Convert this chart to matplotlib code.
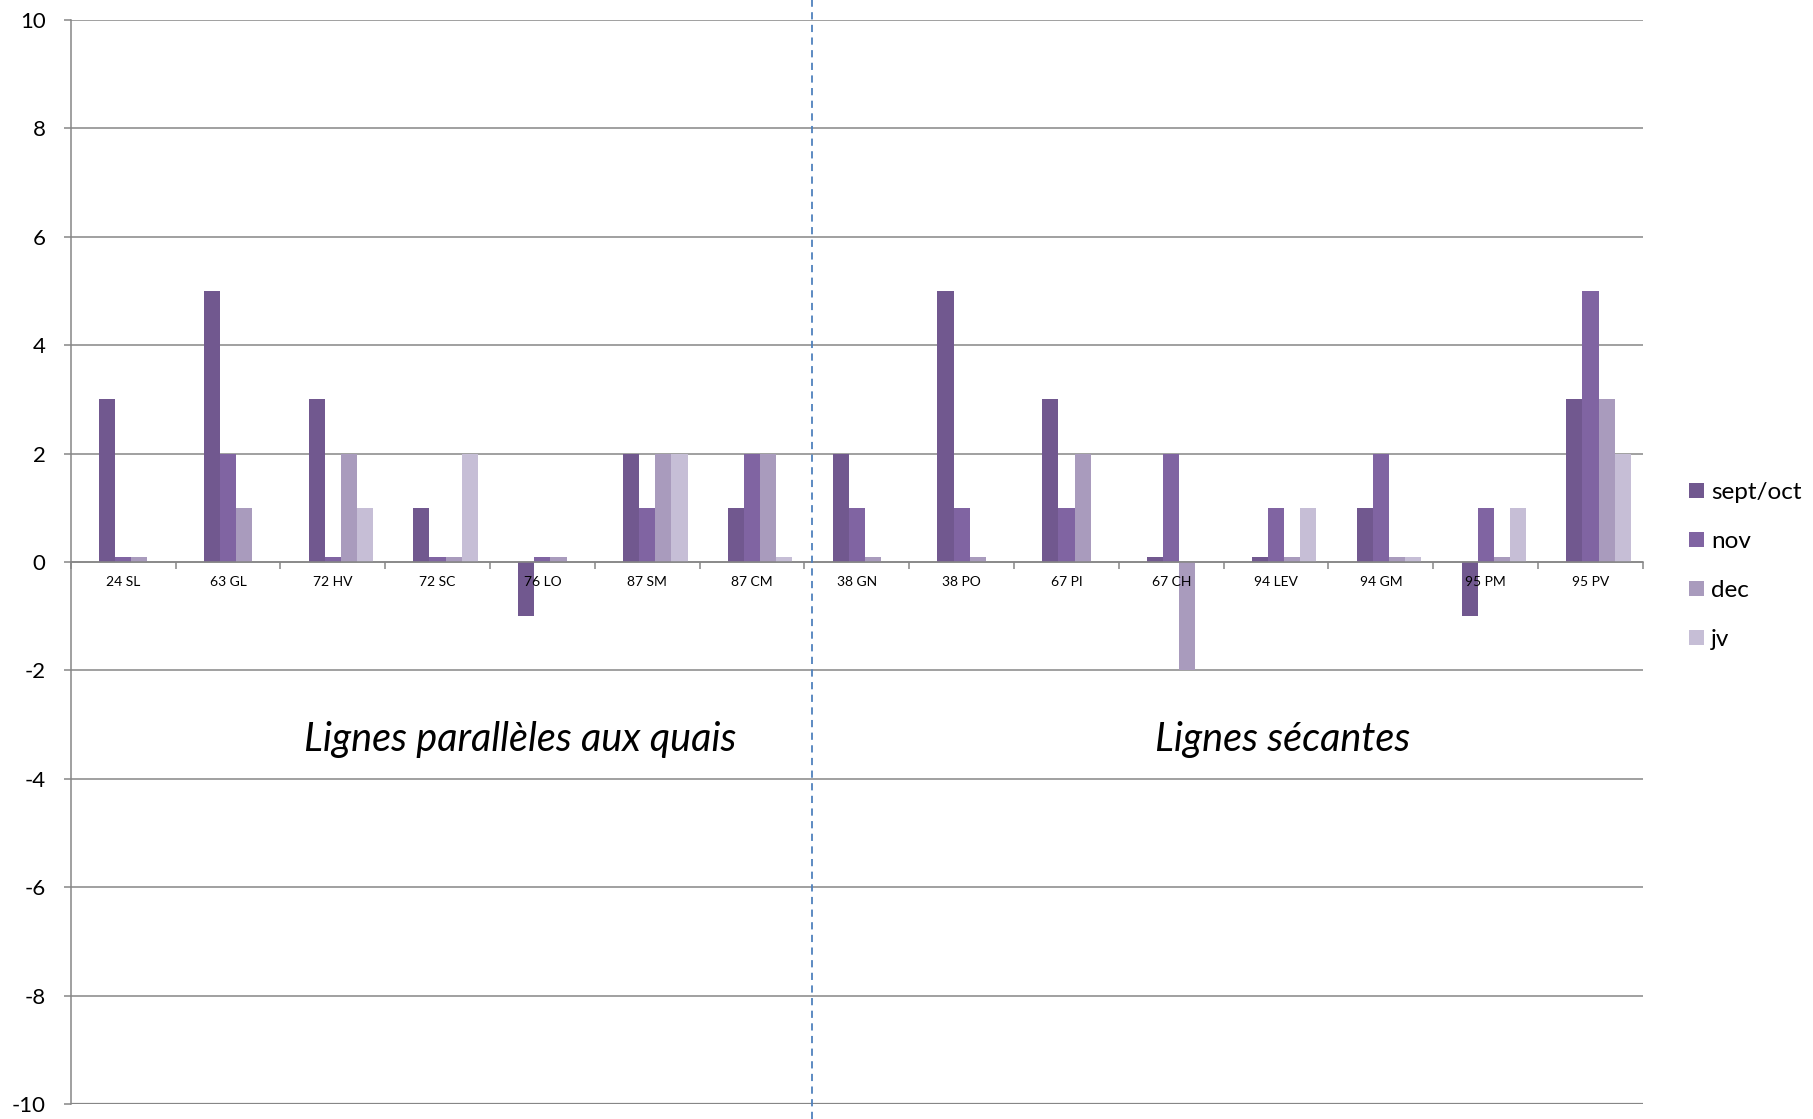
import matplotlib
matplotlib.use("Agg")
import matplotlib.pyplot as plt
import matplotlib.transforms as mtransforms
import numpy as np

plt.rcParams["font.family"] = ["Lato", "DejaVu Sans"]

# small 0.1 values are the thin "zero" stubs drawn in the chart
sites = ["24 SL", "63 GL", "72 HV", "72 SC", "76 LO", "87 SM", "87 CM",
         "38 GN", "38 PO", "67 PI", "67 CH", "94 LEV", "94 GM", "95 PM", "95 PV"]
sept_oct = [3, 5, 3, 1, -1, 2, 1, 2, 5, 3, 0.1, 0.1, 1, -1, 3]
nov = [0.1, 2, 0.1, 0.1, 0.1, 1, 2, 1, 1, 1, 2, 1, 2, 1, 5]
dec = [0.1, 1, 2, 0.1, 0.1, 2, 2, 0.1, 0.1, 2, -2, 0.1, 0.1, 0.1, 3]
jv = [0, 0, 1, 2, 0, 2, 0.1, 0, 0, 0, 0, 1, 0.1, 1, 2]

series = [("sept/oct", sept_oct, "#71588F"),
          ("nov", nov, "#8064A2"),
          ("dec", dec, "#A99BBD"),
          ("jv", jv, "#C6BED6")]

GRID = "#868686"
yticks = np.arange(-10, 11, 2)

fig = plt.figure(figsize=(18.13, 11.19), dpi=100)
ax = fig.add_axes([0.039, 0.0134, 0.8672, 0.9687])

# gridlines under the bars, tick labels stay above them
for yv in yticks:
    ax.axhline(yv, color=GRID, linewidth=1.1 if yv != -10 else 1.6, zorder=0.2)

x = np.arange(len(sites))
# five slots per category (first one empty), Excel-style 150% gap
w = 1 / 6.5
for k, (name, vals, col) in enumerate(series):
    ax.bar(x + (k - 1) * w, vals, width=w, color=col, linewidth=0,
           label=name, zorder=1)

ax.set_xlim(-0.5, len(sites) - 0.5)
ax.set_ylim(-10, 10)
ax.set_yticks(yticks)
ax.set_yticklabels([str(v) for v in yticks])

ax.set_xticks(x)
ax.set_xticklabels(sites, fontsize=10.5)
ax.set_xticks(np.arange(-0.5, len(sites)), minor=True)
ax.tick_params(axis="x", which="major", length=0, pad=10)
ax.tick_params(axis="x", which="minor", length=5, width=1.1, color=GRID,
               direction="out")
ax.tick_params(axis="y", length=5, width=1.1, color=GRID, pad=13,
               labelsize=16)

for side in ("top", "right"):
    ax.spines[side].set_visible(False)
ax.spines["bottom"].set_position(("data", 0))
for side in ("bottom", "left"):
    ax.spines[side].set_color(GRID)
    ax.spines[side].set_linewidth(1.1)

# divider between the two families of lines, running the full height
trans = mtransforms.blended_transform_factory(ax.transData, fig.transFigure)
ax.plot([6.57, 6.57], [0, 1], transform=trans, color="#4F81BD",
        linestyle=(0, (4, 3)), linewidth=1.3, clip_on=False, zorder=4)

ax.text(0.286, 0.336, "Lignes parallèles aux quais", transform=ax.transAxes,
        ha="center", va="center", fontsize=28.5, style="italic")
ax.text(0.771, 0.336, "Lignes sécantes", transform=ax.transAxes,
        ha="center", va="center", fontsize=28.5, style="italic")

fig.legend(loc="center left", bbox_to_anchor=(0.925, 0.494), frameon=False,
           fontsize=17.5, handlelength=0.6, handleheight=0.6,
           handletextpad=0.3, labelspacing=1.15, borderpad=0)

fig.savefig("out.png", dpi=100)
